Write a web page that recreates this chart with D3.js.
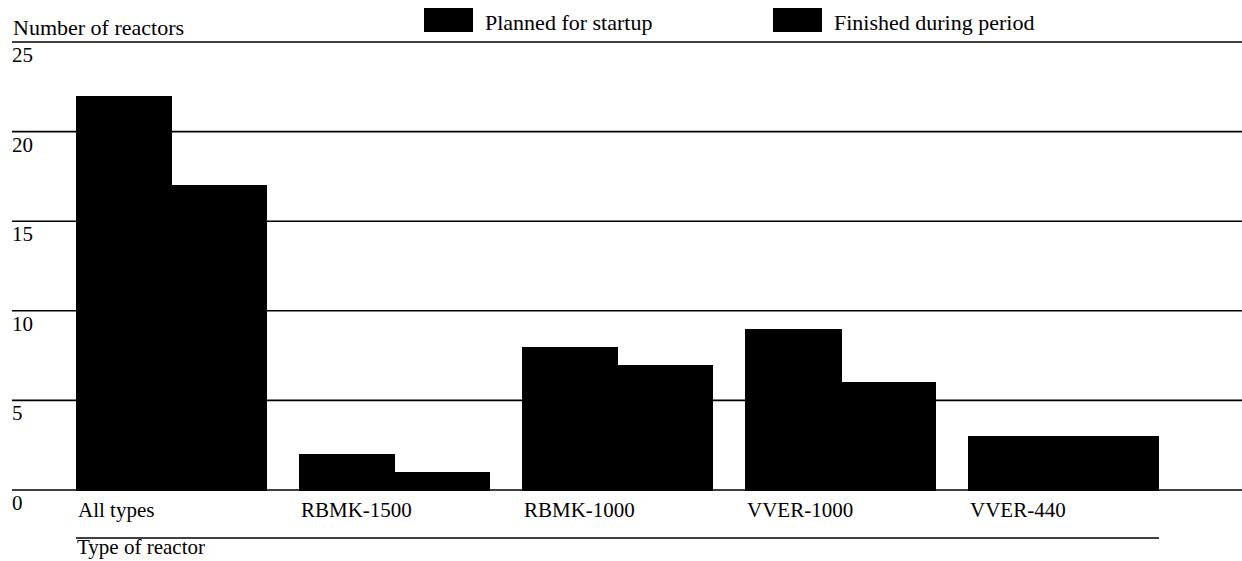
<!DOCTYPE html>
<html><head><meta charset="utf-8">
<script src="https://cdn.jsdelivr.net/npm/d3@7"></script>
<style>
body{margin:0;background:#fff;}
svg text{font-family:"Liberation Serif","Times New Roman",serif;fill:#000;}
</style></head>
<body>
<svg id="chart" width="1242" height="561"></svg>
<script>
const categories = ["All types","RBMK-1500","RBMK-1000","VVER-1000","VVER-440"];
const seriesNames = ["Planned for startup","Finished during period"];
const planned = [22, 2, 8, 9, 3];
const finished = [17, 1, 7, 6, 3];
const yTicks = [0, 5, 10, 15, 20, 25];
const yTitle = "Number of reactors";
const xTitle = "Type of reactor";

const svg = d3.select("#chart");
const W = 1242;
const x0 = d3.scaleBand().domain(categories).range([76, 1159]).paddingInner(0.1435).paddingOuter(0);
const x1 = d3.scaleBand().domain(seriesNames).range([0, x0.bandwidth()]).padding(0);
const y = d3.scaleLinear().domain([0, 25]).range([490, 42]);

// gridlines
svg.append("g").selectAll("line").data(yTicks).join("line")
  .attr("x1", 12).attr("x2", W)
  .attr("y1", d => y(d)).attr("y2", d => y(d))
  .attr("stroke", "#000").attr("stroke-width", 1.6);

// tick labels
svg.append("g").selectAll("text").data(yTicks).join("text")
  .attr("x", 12).attr("y", d => y(d) + 20)
  .attr("font-size", 21).text(d => d);

// bars
const data = categories.map((c, i) => ({cat: c, vals: [planned[i], finished[i]]}));
const g = svg.append("g").attr("shape-rendering", "crispEdges").selectAll("g").data(data).join("g")
  .attr("transform", d => `translate(${x0(d.cat)},0)`);
g.selectAll("rect").data(d => d.vals.map((v, j) => ({s: seriesNames[j], v})))
  .join("rect")
  .attr("x", d => x1(d.s)).attr("width", (d, j) => x1.bandwidth() + (j === 0 ? 1 : 0))
  .attr("y", d => y(d.v)).attr("height", d => y(0) - y(d.v) + 1)
  .attr("fill", "#000");

// category labels
svg.append("g").selectAll("text").data(categories).join("text")
  .attr("x", d => x0(d) + 2).attr("y", 517)
  .attr("font-size", 21).text(d => d);

// bottom line + x title
svg.append("line").attr("x1", x0.range()[0]).attr("x2", x0.range()[1])
  .attr("y1", 538).attr("y2", 538).attr("stroke", "#000").attr("stroke-width", 1.6);
svg.append("text").attr("x", 77).attr("y", 554).attr("font-size", 21).text(xTitle);

// y title
svg.append("text").attr("x", 13).attr("y", 35).attr("font-size", 22).text(yTitle);

// legend
const legX = [424, 773];
const leg = svg.append("g").selectAll("g").data(seriesNames).join("g")
  .attr("transform", (d, i) => `translate(${legX[i]},0)`);
leg.append("rect").attr("x", 0).attr("y", 8).attr("width", 49).attr("height", 24).attr("fill", "#000");
leg.append("text").attr("x", 61).attr("y", 30).attr("font-size", 22).text(d => d);
</script>
</body></html>
